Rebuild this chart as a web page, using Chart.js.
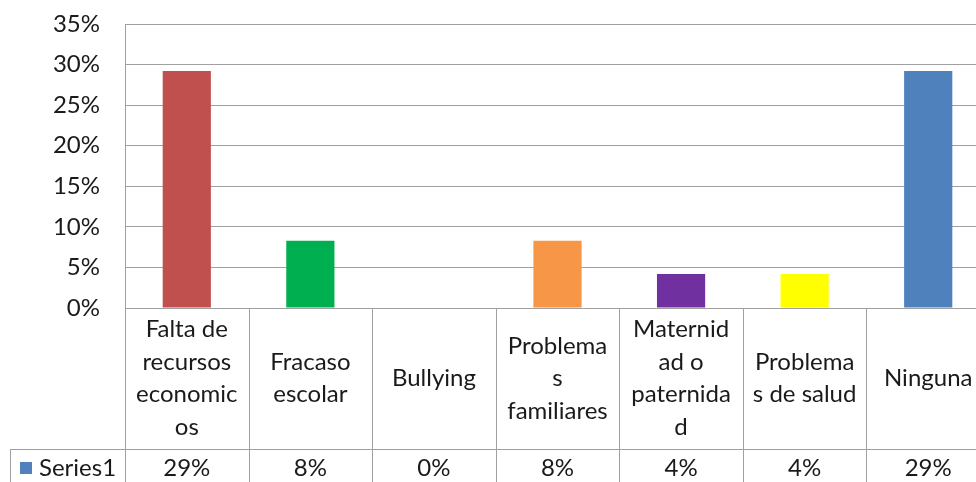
<!DOCTYPE html>
<html>
<head>
<meta charset="utf-8">
<script src="https://cdn.jsdelivr.net/npm/chart.js@4/dist/chart.umd.min.js"></script>
<style>
  html, body { margin: 0; padding: 0; background: #fff; overflow: hidden; }
  #wrap { width: 1000px; height: 482px; }
</style>
</head>
<body>
<div id="wrap"><canvas id="chart" width="1000" height="482"></canvas></div>
<script>
// data
const categories = [
    ['Falta de', 'recursos', 'economic', 'os'],
    ['Fracaso', 'escolar'],
    ['Bullying'],
    ['Problema', 's', 'familiares'],
    ['Maternid', 'ad o', 'paternida', 'd'],
    ['Problema', 's de salud'],
    ['Ninguna']
];
const values = [29.2, 8.3, 0, 8.3, 4.2, 4.2, 29.2];
const tableValues = ['29%', '8%', '0%', '8%', '4%', '4%', '29%'];
const seriesName = 'Series1';
const yMax = 35;
const yStep = 5;

const barColors = ['#C0504D', '#00B050', '#9BBB59', '#F79646', '#7030A0', '#FFFF00', '#4F81BD'];
const seriesColor = '#4F81BD';
const lineColor = '#a0a0a0';
const textColor = '#1a1a1a';
const fontFamily = 'Lato, "Liberation Sans", sans-serif';
const fontSize = 24;

// draws the data table under the plot (Excel style)
const dataTable = {
    id: 'dataTable',
    afterDraw(chart) {
        const ctx = chart.ctx;
        const x = chart.scales.x;
        const area = chart.chartArea;
        const h = chart.height;
        const step = (area.right - area.left) / categories.length;
        const rowTop = area.bottom;
        const rowSplit = 449;

        ctx.save();
        ctx.strokeStyle = lineColor;
        ctx.lineWidth = 1;
        ctx.beginPath();
        ctx.moveTo(area.left, rowTop + 0.5);
        ctx.lineTo(area.right, rowTop + 0.5);
        ctx.moveTo(10, rowSplit + 0.5);
        ctx.lineTo(area.right, rowSplit + 0.5);
        ctx.moveTo(10.5, rowSplit);
        ctx.lineTo(10.5, h);
        for (let i = 0; i <= categories.length; i++) {
            const px = Math.round(area.left + i * step) + 0.5;
            ctx.moveTo(px, rowTop);
            ctx.lineTo(px, h);
        }
        ctx.stroke();

        ctx.fillStyle = textColor;
        ctx.font = fontSize + 'px ' + fontFamily;
        ctx.textAlign = 'center';
        ctx.textBaseline = 'middle';
        const lineH = 32.5;
        const mid = (rowTop + rowSplit) / 2;
        categories.forEach((lines, i) => {
            const cx = x.getPixelForValue(i);
            const y0 = mid - (lines.length - 1) * lineH / 2;
            lines.forEach((t, j) => ctx.fillText(t, cx, y0 + j * lineH));
            ctx.fillText(tableValues[i], cx, 468);
        });

        // legend key in the first column
        ctx.fillStyle = seriesColor;
        ctx.fillRect(20, 462, 12, 12);
        ctx.fillStyle = textColor;
        ctx.textAlign = 'left';
        ctx.fillText(seriesName, 39, 468);
        ctx.restore();
    }
};

new Chart(document.getElementById('chart'), {
    type: 'bar',
    data: {
        labels: categories.map(c => c.join('')),
        datasets: [{
            label: seriesName,
            data: values,
            backgroundColor: barColors,
            categoryPercentage: 1,
            barPercentage: 0.39
        }]
    },
    options: {
        responsive: false,
        animation: false,
        layout: { autoPadding: false, padding: { top: 24, right: 10, bottom: 174, left: 0 } },
        plugins: { legend: { display: false }, tooltip: { enabled: false } },
        scales: {
            x: { display: false },
            y: {
                min: 0,
                max: yMax,
                afterFit(scale) { scale.width = 125; },
                ticks: {
                    stepSize: yStep,
                    padding: 0,
                    color: textColor,
                    font: { family: fontFamily, size: fontSize },
                    callback: v => v + '%'
                },
                // invisible tick marks push the labels away from the axis
                grid: { color: lineColor, drawTicks: true, tickLength: 25, tickColor: 'rgba(0,0,0,0)' },
                border: { color: lineColor }
            }
        }
    },
    plugins: [dataTable]
});
</script>
</body>
</html>
